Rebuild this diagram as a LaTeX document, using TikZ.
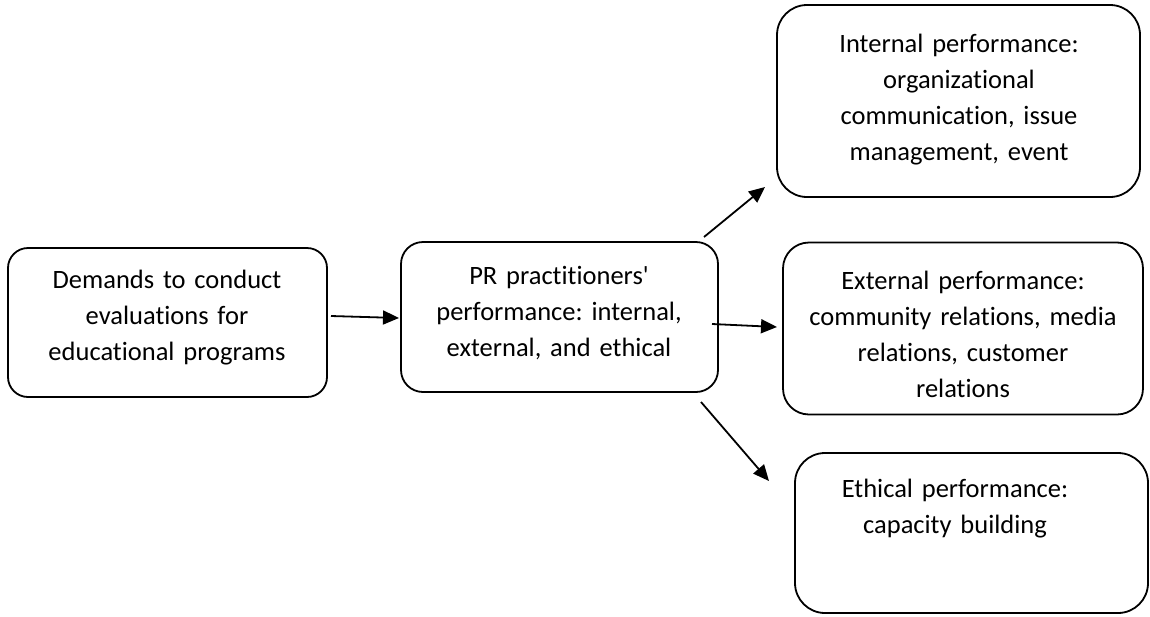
\documentclass[tikz,border=0pt]{standalone}
\usepackage{fontspec}
\newfontfamily\lblfont{Carlito}[Ligatures={NoCommon,NoRequired,NoContextual}]
\usetikzlibrary{arrows.meta}
\tikzset{
  box/.style={draw=black, line width=1.8pt, inner sep=0pt, outer sep=0pt},
  label/.style={text width=380pt, align=center, anchor=base, inner sep=0pt,
    font=\lblfont\fontsize{26.5}{36}\selectfont\frenchspacing, text=black},
  arr/.style={line width=1.8pt, -{Triangle[length=16pt,width=14pt]}}
}
\begin{document}
\begin{tikzpicture}[x=1pt,y=-1pt]
\useasboundingbox (0,0) rectangle (1150,616);
% boxes
\node[box, rounded corners=20pt, minimum width=319pt, minimum height=149pt] (A) at (167.5,322.5) {};
\node[box, rounded corners=22pt, minimum width=317pt, minimum height=150pt] (B) at (559.5,317) {};
\node[box, rounded corners=30pt, minimum width=363pt, minimum height=192pt] (C) at (958.5,101) {};
\node[box, rounded corners=26pt, minimum width=360pt, minimum height=172pt] (D) at (963,328.5) {};
\node[box, rounded corners=30pt, minimum width=353pt, minimum height=160pt] (E) at (971.5,533) {};
% texts
\node[label] (At) at (167,288) {Demands to conduct\\ evaluations for\\ educational programs};
\node[label] (Bt) at (559,284) {PR practitioners'\\ performance: internal,\\ external, and ethical};
\node[label] (Ct) at (959,52) {Internal performance:\\ organizational\\ communication, issue\\ management, event};
\node[label] (Dt) at (963,289) {External performance:\\ community relations, media\\ relations, customer\\ relations};
\node[label] (Et) at (955,497) {Ethical performance:\\ capacity building};
% arrow end points
\coordinate (ab1) at (331,316);
\coordinate (ab2) at (399,318);
\coordinate (bc1) at (704,237);
\coordinate (bc2) at (765,187);
\coordinate (bd1) at (712,324);
\coordinate (bd2) at (777,327);
\coordinate (be1) at (701,402);
\coordinate (be2) at (769,481);
\draw[arr] (ab1) -- (ab2);
\draw[arr] (bc1) -- (bc2);
\draw[arr] (bd1) -- (bd2);
\draw[arr] (be1) -- (be2);
\end{tikzpicture}
\end{document}
